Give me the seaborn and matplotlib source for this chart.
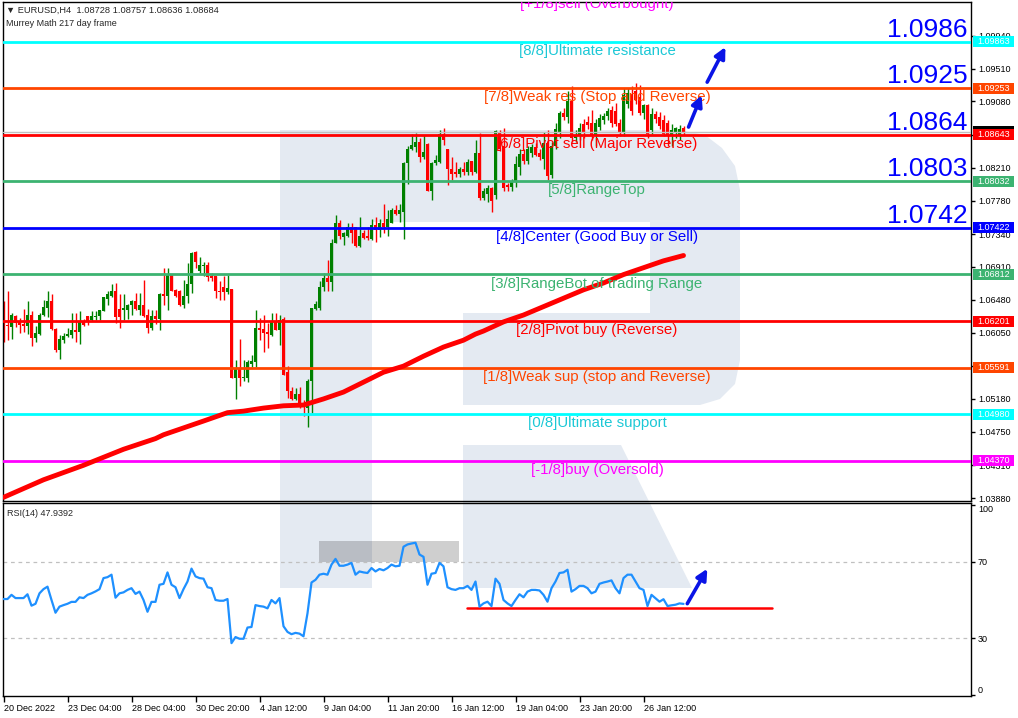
import numpy as np
import pandas as pd
import matplotlib
matplotlib.use("Agg")
import matplotlib.pyplot as plt
import matplotlib.transforms as mtransforms
from matplotlib.patches import Rectangle, Polygon
import seaborn as sns

# --- datos (EURUSD H4, barras 0..170) ---
open_ = [
    1.0636, 1.0615, 1.0612, 1.0627, 1.0620, 1.0616, 1.0613, 1.0628, 1.0598, 1.0603,
    1.0628, 1.0637, 1.0646, 1.0610, 1.0582, 1.0595, 1.0600, 1.0602, 1.0609, 1.0606,
    1.0620, 1.0627, 1.0622, 1.0625, 1.0627, 1.0633, 1.0649, 1.0653, 1.0660, 1.0636,
    1.0635, 1.0635, 1.0641, 1.0646, 1.0635, 1.0641, 1.0628, 1.0611, 1.0627, 1.0623,
    1.0656, 1.0653, 1.0681, 1.0661, 1.0660, 1.0641, 1.0653, 1.0668, 1.0711, 1.0686,
    1.0692, 1.0693, 1.0679, 1.0679, 1.0660, 1.0665, 1.0658, 1.0662, 1.0546, 1.0559,
    1.0545, 1.0546, 1.0564, 1.0567, 1.0611, 1.0610, 1.0606, 1.0602, 1.0620, 1.0609,
    1.0623, 1.0553, 1.0528, 1.0518, 1.0525, 1.0513, 1.0506, 1.0541, 1.0636, 1.0637,
    1.0665, 1.0677, 1.0671, 1.0723, 1.0748, 1.0730, 1.0732, 1.0743, 1.0743, 1.0719,
    1.0735, 1.0732, 1.0728, 1.0746, 1.0739, 1.0749, 1.0744, 1.0749, 1.0765, 1.0760,
    1.0763, 1.0827, 1.0846, 1.0848, 1.0855, 1.0835, 1.0852, 1.0791, 1.0827, 1.0829,
    1.0865, 1.0846, 1.0819, 1.0815, 1.0813, 1.0820, 1.0815, 1.0830, 1.0816, 1.0841,
    1.0781, 1.0786, 1.0794, 1.0785, 1.0868, 1.0850, 1.0798, 1.0796, 1.0802, 1.0822,
    1.0839, 1.0830, 1.0840, 1.0848, 1.0840, 1.0833, 1.0853, 1.0812, 1.0850, 1.0868,
    1.0893, 1.0888, 1.0908, 1.0860, 1.0862, 1.0878, 1.0881, 1.0880, 1.0864, 1.0875,
    1.0884, 1.0889, 1.0897, 1.0895, 1.0880, 1.0866, 1.0905, 1.0918, 1.0922, 1.0914,
    1.0893, 1.0903, 1.0870, 1.0891, 1.0888, 1.0884, 1.0880, 1.0864, 1.0866, 1.0862,
    1.08728,
]
high = [
    1.0646, 1.0659, 1.0630, 1.0628, 1.0624, 1.0636, 1.0646, 1.0633, 1.0614, 1.0630,
    1.0648, 1.0659, 1.0655, 1.0611, 1.0602, 1.0604, 1.0611, 1.0630, 1.0631, 1.0633,
    1.0623, 1.0627, 1.0633, 1.0633, 1.0635, 1.0652, 1.0659, 1.0668, 1.0670, 1.0656,
    1.0655, 1.0643, 1.0648, 1.0657, 1.0657, 1.0674, 1.0636, 1.0635, 1.0634, 1.0657,
    1.0689, 1.0689, 1.0681, 1.0662, 1.0661, 1.0674, 1.0696, 1.0711, 1.0712, 1.0704,
    1.0698, 1.0698, 1.0683, 1.0679, 1.0672, 1.0679, 1.0680, 1.0662, 1.0569, 1.0597,
    1.0569, 1.0569, 1.0576, 1.0635, 1.0624, 1.0628, 1.0617, 1.0631, 1.0630, 1.0628,
    1.0625, 1.0561, 1.0534, 1.0532, 1.0534, 1.0517, 1.0544, 1.0637, 1.0647, 1.0672,
    1.0683, 1.0700, 1.0727, 1.0759, 1.0752, 1.0737, 1.0748, 1.0748, 1.0744, 1.0757,
    1.0739, 1.0744, 1.0754, 1.0756, 1.0754, 1.0774, 1.0765, 1.0768, 1.0772, 1.0774,
    1.0829, 1.0849, 1.0865, 1.0866, 1.0860, 1.0864, 1.0853, 1.0829, 1.0838, 1.0870,
    1.0873, 1.0846, 1.0835, 1.0828, 1.0822, 1.0829, 1.0833, 1.0830, 1.0857, 1.0867,
    1.0794, 1.0798, 1.0796, 1.0870, 1.0871, 1.0873, 1.0801, 1.0806, 1.0836, 1.0845,
    1.0846, 1.0850, 1.0852, 1.0853, 1.0845, 1.0868, 1.0870, 1.0855, 1.0880, 1.0895,
    1.0900, 1.0922, 1.0928, 1.0870, 1.0880, 1.0885, 1.0889, 1.0897, 1.0885, 1.0892,
    1.0893, 1.0899, 1.0902, 1.0906, 1.0885, 1.0925, 1.0925, 1.0928, 1.0932, 1.0930,
    1.0905, 1.0905, 1.0900, 1.0896, 1.0894, 1.0890, 1.0884, 1.0878, 1.0875, 1.0877,
    1.08757,
]
low = [
    1.0593, 1.0595, 1.0597, 1.0612, 1.0604, 1.0606, 1.0603, 1.0588, 1.0593, 1.0602,
    1.0627, 1.0626, 1.0609, 1.0580, 1.0570, 1.0591, 1.0599, 1.0598, 1.0593, 1.0590,
    1.0614, 1.0615, 1.0620, 1.0622, 1.0622, 1.0633, 1.0641, 1.0652, 1.0617, 1.0611,
    1.0622, 1.0623, 1.0628, 1.0635, 1.0628, 1.0626, 1.0604, 1.0609, 1.0616, 1.0609,
    1.0641, 1.0635, 1.0659, 1.0652, 1.0640, 1.0637, 1.0644, 1.0657, 1.0690, 1.0683,
    1.0679, 1.0672, 1.0672, 1.0650, 1.0648, 1.0648, 1.0655, 1.0546, 1.0518, 1.0535,
    1.0541, 1.0540, 1.0560, 1.0560, 1.0595, 1.0580, 1.0585, 1.0600, 1.0609, 1.0589,
    1.0550, 1.0519, 1.0517, 1.0517, 1.0506, 1.0495, 1.0481, 1.0499, 1.0634, 1.0635,
    1.0660, 1.0659, 1.0660, 1.0722, 1.0728, 1.0720, 1.0730, 1.0722, 1.0717, 1.0717,
    1.0728, 1.0726, 1.0726, 1.0724, 1.0730, 1.0735, 1.0732, 1.0748, 1.0759, 1.0750,
    1.0728, 1.0800, 1.0844, 1.0842, 1.0829, 1.0833, 1.0791, 1.0779, 1.0825, 1.0827,
    1.0851, 1.0798, 1.0805, 1.0809, 1.0809, 1.0811, 1.0811, 1.0811, 1.0814, 1.0779,
    1.0779, 1.0776, 1.0763, 1.0780, 1.0843, 1.0790, 1.0791, 1.0790, 1.0796, 1.0812,
    1.0826, 1.0826, 1.0835, 1.0836, 1.0831, 1.0820, 1.0805, 1.0808, 1.0845, 1.0860,
    1.0884, 1.0880, 1.0855, 1.0855, 1.0858, 1.0860, 1.0872, 1.0858, 1.0850, 1.0870,
    1.0878, 1.0883, 1.0875, 1.0876, 1.0863, 1.0862, 1.0900, 1.0890, 1.0905, 1.0890,
    1.0885, 1.0860, 1.0865, 1.0880, 1.0872, 1.0862, 1.0850, 1.0849, 1.0860, 1.0858,
    1.08636,
]
close = [
    1.0615, 1.0613, 1.0628, 1.0618, 1.0615, 1.0613, 1.0628, 1.0598, 1.0604, 1.0628,
    1.0639, 1.0646, 1.0610, 1.0582, 1.0597, 1.0601, 1.0603, 1.0609, 1.0606, 1.0620,
    1.0615, 1.0620, 1.0627, 1.0627, 1.0634, 1.0652, 1.0655, 1.0660, 1.0626, 1.0625,
    1.0637, 1.0641, 1.0646, 1.0636, 1.0641, 1.0627, 1.0611, 1.0627, 1.0623, 1.0656,
    1.0653, 1.0681, 1.0660, 1.0653, 1.0641, 1.0653, 1.0668, 1.0709, 1.0697, 1.0693,
    1.0693, 1.0678, 1.0677, 1.0659, 1.0658, 1.0658, 1.0663, 1.0546, 1.0559, 1.0545,
    1.0547, 1.0567, 1.0568, 1.0611, 1.0609, 1.0604, 1.0603, 1.0620, 1.0609, 1.0622,
    1.0550, 1.0528, 1.0518, 1.0525, 1.0513, 1.0508, 1.0542, 1.0637, 1.0643, 1.0665,
    1.0677, 1.0671, 1.0723, 1.0748, 1.0731, 1.0735, 1.0743, 1.0735, 1.0719, 1.0732,
    1.0729, 1.0729, 1.0746, 1.0739, 1.0748, 1.0744, 1.0754, 1.0765, 1.0761, 1.0765,
    1.0827, 1.0846, 1.0851, 1.0855, 1.0835, 1.0842, 1.0791, 1.0827, 1.0831, 1.0865,
    1.0857, 1.0819, 1.0813, 1.0813, 1.0820, 1.0815, 1.0829, 1.0816, 1.0841, 1.0781,
    1.0790, 1.0794, 1.0778, 1.0869, 1.0845, 1.0794, 1.0796, 1.0802, 1.0826, 1.0839,
    1.0830, 1.0845, 1.0848, 1.0838, 1.0835, 1.0853, 1.0810, 1.0850, 1.0872, 1.0893,
    1.0888, 1.0908, 1.0860, 1.0864, 1.0873, 1.0866, 1.0877, 1.0864, 1.0880, 1.0886,
    1.0889, 1.0895, 1.0880, 1.0878, 1.0866, 1.0916, 1.0919, 1.0895, 1.0910, 1.0893,
    1.0903, 1.0865, 1.0892, 1.0885, 1.0876, 1.0865, 1.0864, 1.0871, 1.0873, 1.0872,
    1.08684,
]
rsi = [
    50.5, 50.5, 52.7, 51.0, 51.0, 51.0, 53.0, 47.0, 48.0, 53.5,
    55.7, 57.0, 50.0, 43.3, 46.5, 47.3, 48.0, 49.0, 49.0, 51.4,
    51.0, 52.7, 53.5, 54.5, 55.7, 61.5, 62.0, 63.3, 51.2, 53.5,
    54.0, 55.3, 56.2, 53.2, 54.4, 50.0, 43.8, 49.0, 49.0, 58.0,
    58.5, 64.5, 58.0, 56.7, 51.0, 55.7, 59.7, 66.5, 62.4, 61.5,
    61.2, 56.7, 56.2, 50.0, 49.6, 49.6, 50.5, 27.3, 30.5, 29.6,
    29.6, 35.5, 35.8, 47.3, 46.8, 46.5, 45.6, 50.0, 48.2, 51.0,
    36.2, 33.2, 32.0, 32.7, 32.3, 30.9, 43.0, 59.2, 60.6, 63.3,
    63.8, 63.3, 68.6, 71.6, 68.0, 68.0, 68.6, 69.5, 63.3, 65.0,
    64.5, 64.2, 66.8, 65.0, 66.3, 65.6, 66.8, 68.6, 67.7, 68.0,
    78.0, 79.2, 79.7, 80.1, 73.9, 72.7, 58.0, 63.8, 64.2, 69.5,
    67.7, 56.7, 55.7, 55.3, 56.2, 56.2, 57.4, 55.3, 59.7, 46.5,
    48.2, 49.1, 46.8, 61.2, 58.5, 50.0, 48.2, 46.8, 50.0, 53.0,
    51.4, 54.4, 55.3, 55.3, 55.0, 52.7, 49.1, 56.2, 59.7, 64.2,
    64.5, 65.9, 54.4, 55.7, 57.4, 57.4, 56.2, 53.5, 54.4, 58.5,
    59.2, 59.7, 60.3, 56.2, 53.5, 61.5, 63.3, 63.3, 59.7, 56.2,
    55.3, 46.8, 52.7, 50.9, 49.1, 50.4, 46.8, 47.2, 47.5, 48.2,
    47.94,
]
# media movil (linea roja gruesa), leida cada 5-10 barras
ma_bars = [0, 10, 20, 30, 38, 40, 50, 56, 60, 65, 70, 75, 80, 85, 90, 95, 100, 105,
           110, 115, 118, 120, 125, 130, 135, 140, 145, 150, 155, 160, 165, 170]
ma_vals = [1.0389, 1.0412, 1.0431, 1.0452, 1.0466, 1.0471, 1.0489, 1.0500, 1.0502,
           1.0506, 1.0509, 1.0510, 1.0518, 1.0527, 1.0540, 1.0553, 1.0561, 1.0574,
           1.0586, 1.0595, 1.0603, 1.0607, 1.0619, 1.0628, 1.0639, 1.0650, 1.0661,
           1.0670, 1.0681, 1.0690, 1.0699, 1.0706]

level_names = ["[+1/8]sell (Overbought)", "[8/8]Ultimate resistance",
               "[7/8]Weak res (Stop and Reverse)", "[6/8]Pivot sell (Major Reverse)",
               "[5/8]RangeTop", "[4/8]Center (Good Buy or Sell)",
               "[3/8]RangeBot of trading Range", "[2/8]Pivot buy (Reverse)",
               "[1/8]Weak sup (stop and Reverse)", "[0/8]Ultimate support",
               "[-1/8]buy (Oversold)"]
level_prices = [1.10473, 1.09863, 1.09253, 1.08643, 1.08032, 1.07422,
                1.06812, 1.06201, 1.05591, 1.04980, 1.04370]
level_colors = ["#FF00FF", "#00FFFF", "#FF4500", "#FF0000", "#3CB371", "#0000FF",
                "#3CB371", "#FF0000", "#FF4500", "#00FFFF", "#FF00FF"]
big_labels = ["1.0986", "1.0925", "1.0864", "1.0803", "1.0742"]

price_ticks = [1.03880, 1.04310, 1.04750, 1.05180, 1.05610, 1.06050, 1.06480,
               1.06910, 1.07340, 1.07780, 1.08210, 1.08640, 1.09080, 1.09510, 1.09940]
hidden_ticks = [1.05610, 1.08640]   # tapados por las cajas de nivel
date_bars = [0, 16, 32, 48, 64, 80, 96, 112, 128, 144, 160]
date_labels = ["20 Dec 2022", "23 Dec 04:00", "28 Dec 04:00", "30 Dec 20:00",
               "4 Jan 12:00", "9 Jan 04:00", "11 Jan 20:00", "16 Jan 12:00",
               "19 Jan 04:00", "23 Jan 20:00", "26 Jan 12:00"]
last_price = 1.08684

df = pd.DataFrame({"open": open_, "high": high, "low": low, "close": close, "rsi": rsi})
df["bar"] = np.arange(len(df))
df_ma = pd.DataFrame({"bar": ma_bars, "ma": ma_vals})

sns.set_theme(style="white")
plt.rcParams["font.family"] = ["Liberation Sans", "DejaVu Sans"]

W, H = 1018, 718
fig = plt.figure(figsize=(W / 100, H / 100), dpi=100)
fig.patch.set_facecolor("white")


def fx(px):
    return px / W


def fy(py):
    return 1 - py / H


ax = fig.add_axes([fx(3), fy(501), fx(971) - fx(3), fy(2) - fy(501)])
ax_rsi = fig.add_axes([fx(3), fy(696), fx(971) - fx(3), fy(503) - fy(696)])
for a in (ax, ax_rsi):
    a.set_facecolor("none")
    for s in a.spines.values():
        s.set_color("black")
        s.set_linewidth(1)

# marca de agua "R" de fondo
wm = "#E4EAF2"
wm_shapes = [
    [(280, 130), (372, 130), (372, 588), (280, 588)],
    [(280, 130), (680, 130), (705, 135), (722, 148), (735, 166), (740, 190),
     (740, 360), (735, 384), (720, 399), (700, 405), (463, 405), (463, 313),
     (650, 313), (650, 222), (280, 222)],
    [(463, 445), (621, 445), (692, 588), (463, 588)],
]
for pts in wm_shapes:
    fig.add_artist(Polygon([(fx(x), fy(y)) for x, y in pts], closed=True,
                           transform=fig.transFigure, fc=wm, ec="none", zorder=-5))

# --- panel principal: velas ---
up = df["close"] >= df["open"]
cols = np.where(up, "#008000", "#FF0000")
ax.vlines(df["bar"], df["low"], df["high"], colors=cols, lw=1, zorder=2)
body_lo = np.minimum(df["open"], df["close"])
body_h = np.maximum(np.abs(df["close"] - df["open"]), 0.00008)
ax.bar(df["bar"], body_h, bottom=body_lo, width=0.78, color=cols, linewidth=0, zorder=2)

# niveles Murrey
for name, p, c in zip(level_names, level_prices, level_colors):
    ax.axhline(p, color=c, lw=2, zorder=3)
    tc = "#1CC8D6" if c == "#00FFFF" else c
    ax.annotate(name, xy=(148.4, p), xytext=(0, -1.5), textcoords="offset points",
                ha="center", va="top", fontsize=10.8, color=tc, zorder=6,
                annotation_clip=False, clip_on=True)
ax.axhline(last_price, color="#C0C0C0", lw=1, zorder=3)

for lab, p in zip(big_labels, level_prices[1:6]):
    ax.annotate(lab, xy=(241.0, p), xytext=(0, 3.5), textcoords="offset points",
                ha="right", va="baseline", fontsize=19, color="#0000FF", zorder=6)

sns.lineplot(data=df_ma, x="bar", y="ma", ax=ax, color="#FF0000", lw=3.5, zorder=4)

# flechas azules
arrow_kw = dict(arrowstyle="-|>", color="#0A14E6", lw=2.6, mutation_scale=16)
ax.annotate("", xy=(174.8, 1.09195), xytext=(171.0, 1.08710), arrowprops=arrow_kw, zorder=7)
ax.annotate("", xy=(180.8, 1.09825), xytext=(175.6, 1.09300), arrowprops=arrow_kw, zorder=7)

ax.set_xlim(-0.125, 241.875)
ax.set_ylim(1.03842, 1.10383)
ax.set_xlabel("")
ax.set_ylabel("")
ax.set_xticks([])
ax.set_yticks(price_ticks)
ax.set_yticklabels(["" if v in hidden_ticks else f"{v:.5f}" for v in price_ticks])
ax.tick_params(axis="y", left=False, labelleft=False, right=True, labelright=True,
               length=3, width=1, pad=2, labelsize=6.5, colors="black")

# cajas de precio a la derecha
blend = mtransforms.blended_transform_factory(ax.transAxes, ax.transData)
box_h = 11 * 0.0001311
ax.add_patch(Rectangle((1.0021, last_price - box_h / 2), 0.0423, box_h, transform=blend,
                       fc="black", ec="none", clip_on=False, zorder=8))
for p, c in zip(level_prices[1:], level_colors[1:]):
    ax.add_patch(Rectangle((1.0021, p - box_h / 2), 0.0423, box_h, transform=blend,
                           fc=c, ec="none", clip_on=False, zorder=8.5))
    ax.text(1.0233, p, f"{p:.5f}", transform=blend, ha="center", va="center",
            fontsize=6.5, color="white", clip_on=False, zorder=9)

# --- panel RSI ---
ax_rsi.add_patch(Rectangle((78.9, 70), 35.0, 11.2, fc="black", alpha=0.19, ec="none", zorder=1))
for lv in (70, 30):
    ax_rsi.axhline(lv, color="#C0C0C0", lw=0.9, ls=(0, (3, 3)), zorder=1)
sns.lineplot(data=df, x="bar", y="rsi", ax=ax_rsi, color="#1E90FF", lw=1.6, zorder=3)
ax_rsi.plot([115.75, 192.0], [46.0, 46.0], color="#FF0000", lw=1.8, zorder=2)
ax_rsi.annotate("", xy=(176.3, 67.7), xytext=(170.6, 46.8), arrowprops=arrow_kw, zorder=7)

ax_rsi.set_xlim(-0.125, 241.875)
ax_rsi.set_ylim(-0.5, 101)
ax_rsi.set_xlabel("")
ax_rsi.set_ylabel("")
ax_rsi.set_yticks([0, 30, 70, 100])
ax_rsi.set_yticklabels(["0", "30", "70", "100"])
ax_rsi.tick_params(axis="y", left=False, labelleft=False, right=True, labelright=True,
                   length=3, width=1, pad=2, labelsize=6.5, colors="black")
ylabs = ax_rsi.get_yticklabels()
ylabs[0].set_va("bottom")
ylabs[3].set_va("top")
ax_rsi.set_xticks(date_bars)
ax_rsi.set_xticklabels(date_labels, ha="left")
ax_rsi.tick_params(axis="x", bottom=True, length=4, width=1, pad=1.5, labelsize=6.5,
                   colors="black", direction="out")

# textos de cabecera
fig.text(fx(6), fy(10), "\u25bc EURUSD,H4  1.08728 1.08757 1.08636 1.08684",
         fontsize=6.7, va="center", ha="left")
fig.text(fx(6), fy(24), "Murrey Math 217 day frame", fontsize=6.5, va="center", ha="left")
fig.text(fx(7), fy(513), "RSI(14) 47.9392", fontsize=6.5, va="center", ha="left")

fig.savefig("out.png", dpi=100, facecolor="white")
plt.close(fig)
